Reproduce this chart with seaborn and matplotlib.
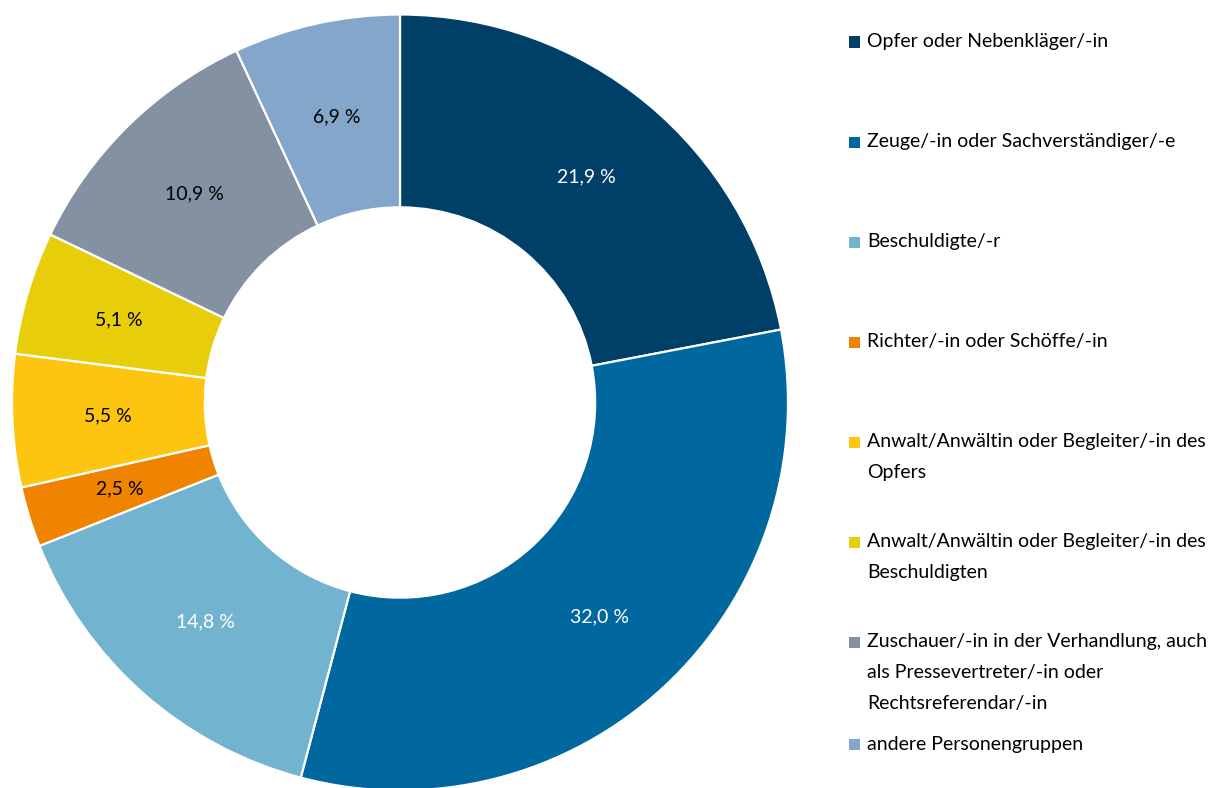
import numpy as np
import matplotlib
matplotlib.use("Agg")
import matplotlib.pyplot as plt
import seaborn as sns

# Personengruppen und Anteile in Prozent
categories = [
    "Opfer oder Nebenkläger/-in",
    "Zeuge/-in oder Sachverständiger/-e",
    "Beschuldigte/-r",
    "Richter/-in oder Schöffe/-in",
    "Anwalt/Anwältin oder Begleiter/-in des\nOpfers",
    "Anwalt/Anwältin oder Begleiter/-in des\nBeschuldigten",
    "Zuschauer/-in in der Verhandlung, auch\nals Pressevertreter/-in oder\nRechtsreferendar/-in",
    "andere Personengruppen",
]
shares = [21.9, 32.0, 14.8, 2.5, 5.5, 5.1, 10.9, 6.9]

colors = ["#004068", "#00679f", "#72b3d0", "#f08400",
          "#fdc50f", "#e8cd0b", "#8491a3", "#85a6cb"]
label_colors = ["white", "white", "white", "black",
                "black", "black", "black", "black"]

sns.set_theme(style="white")
plt.rcParams["font.family"] = ["Lato", "DejaVu Sans"]

W, H = 1214, 788
fig = plt.figure(figsize=(W / 100, H / 100), dpi=100)
fig.patch.set_facecolor("white")

# Ring chart (slightly cut at the bottom edge)
cx, cy, R = 400, 402.5, 388
ax = fig.add_axes([(cx - R) / W, (H - cy - R) / H, 2 * R / W, 2 * R / H])
wedges, _ = ax.pie(
    shares,
    colors=colors,
    startangle=90,
    counterclock=False,
    radius=1.0,
    wedgeprops=dict(width=0.497, edgecolor="white", linewidth=1.6),
)
ax.set_xlim(-1, 1)
ax.set_ylim(-1, 1)
ax.set_aspect("equal")
ax.axis("off")

for w, v, tc in zip(wedges, shares, label_colors):
    ang = np.deg2rad((w.theta1 + w.theta2) / 2)
    r = w.r * 0.755
    ax.text(r * np.cos(ang), r * np.sin(ang),
            f"{v:.1f} %".replace(".", ","),
            ha="center", va="center", fontsize=14, color=tc)

# Legend on the right
line_h = 30.5
y_prev, n_prev = None, 0
for i, (lab, col) in enumerate(zip(categories, colors)):
    y = 42 + 100 * i
    if y_prev is not None:
        y = max(y, y_prev + n_prev * line_h + 11)
    lines = lab.split("\n")
    fig.patches.append(plt.Rectangle((849 / W, 1 - (y + 5.5) / H), 11 / W, 11 / H,
                                     transform=fig.transFigure, facecolor=col,
                                     edgecolor="none"))
    for k, ln in enumerate(lines):
        fig.text(867 / W, 1 - (y + k * line_h) / H, ln,
                 ha="left", va="center", fontsize=14, color="black")
    y_prev, n_prev = y, len(lines)

fig.savefig("out.png", dpi=100, facecolor="white")
